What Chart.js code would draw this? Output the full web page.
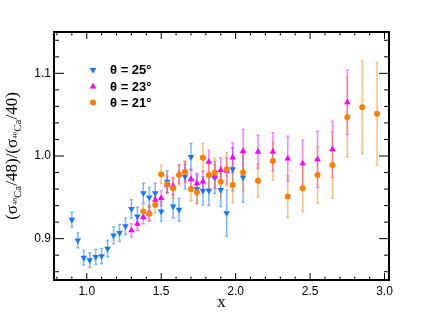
<!DOCTYPE html>
<html><head><meta charset="utf-8">
<script src="https://cdn.jsdelivr.net/npm/chart.js@4"></script>
<style>html,body{margin:0;padding:0;background:#fff}canvas{display:block}</style>
</head><body>
<canvas id="c" width="432" height="312"></canvas>
<script>
// ---- data ----
const seriesLabels = ['θ = 25°', 'θ = 23°', 'θ = 21°'];

const x25 = [0.90,0.94,0.98,1.02,1.06,1.10,1.14,1.18,1.22,1.26,1.30,1.34,1.38,1.42,1.46,1.50,1.54,1.58,1.62,1.66,1.70,1.74,1.78,1.82,1.86,1.90,1.94,1.98,2.05];
const y25 = [0.923,0.898,0.877,0.874,0.878,0.879,0.888,0.904,0.907,0.915,0.936,0.927,0.955,0.950,0.955,0.933,0.969,0.939,0.935,0.975,0.999,0.960,0.958,0.958,0.974,0.959,0.931,0.984,0.974];
const e25 = [0.009,0.009,0.009,0.009,0.009,0.009,0.010,0.010,0.010,0.010,0.011,0.011,0.012,0.012,0.012,0.012,0.013,0.014,0.014,0.015,0.016,0.017,0.017,0.018,0.019,0.020,0.028,0.026,0.030];

const x23 = [1.30,1.34,1.38,1.42,1.46,1.50,1.54,1.58,1.62,1.66,1.70,1.74,1.78,1.82,1.86,1.90,1.94,1.98,2.05,2.15,2.25,2.35,2.45,2.55,2.65,2.75];
const y23 = [0.910,0.918,0.926,0.931,0.947,0.949,0.965,0.964,0.978,0.981,0.972,0.967,0.969,0.993,0.975,0.983,0.982,0.998,1.006,1.005,1.005,0.997,0.991,0.996,1.008,1.065];
const e23 = [0.008,0.008,0.008,0.009,0.009,0.009,0.010,0.010,0.011,0.012,0.012,0.012,0.013,0.014,0.014,0.015,0.016,0.018,0.026,0.020,0.023,0.027,0.028,0.034,0.034,0.039];

const x21 = [1.38,1.42,1.46,1.50,1.54,1.58,1.62,1.66,1.70,1.74,1.78,1.82,1.86,1.90,1.94,1.98,2.05,2.15,2.25,2.35,2.45,2.55,2.65,2.75,2.85,2.95];
const y21 = [0.933,0.930,0.941,0.978,0.966,0.961,0.977,0.981,0.960,0.956,0.998,0.977,0.980,0.969,0.984,0.965,0.980,0.970,0.994,0.951,0.961,0.977,0.989,1.047,1.059,1.051];
const e21 = [0.009,0.009,0.010,0.011,0.011,0.012,0.012,0.013,0.014,0.014,0.017,0.016,0.017,0.018,0.020,0.022,0.022,0.020,0.023,0.025,0.028,0.034,0.040,0.048,0.056,0.062];

const xTickValues = [1.0, 1.5, 2.0, 2.5, 3.0];
const yTickValues = [0.9, 1.0, 1.1];
const xRange = [0.78, 3.03];
const yRange = [0.85, 1.15];

// ---- styles ----
const markerColors = ['rgb(20,120,255)', 'rgb(255,0,255)', 'rgb(255,125,0)'];
const barColors = ['rgba(20,120,255,0.55)', 'rgba(255,0,255,0.5)', 'rgba(255,125,0,0.5)'];
const errs = [e25, e23, e21];

const toPts = (xs, ys) => xs.map((x, i) => ({x: x, y: ys[i]}));

const errorBars = {
  id: 'errorBars',
  beforeDatasetsDraw(chart) {
    const ctx = chart.ctx, xs = chart.scales.x, ys = chart.scales.y;
    ctx.save();
    chart.data.datasets.forEach((ds, di) => {
      ctx.strokeStyle = barColors[di];
      ctx.lineWidth = 1.5;
      ds.data.forEach((p, i) => {
        const px = xs.getPixelForValue(p.x);
        const top = ys.getPixelForValue(p.y + errs[di][i]);
        const bot = ys.getPixelForValue(p.y - errs[di][i]);
        ctx.beginPath();
        ctx.moveTo(px, top); ctx.lineTo(px, bot);
        ctx.moveTo(px - 1.5, top); ctx.lineTo(px + 1.5, top);
        ctx.moveTo(px - 1.5, bot); ctx.lineTo(px + 1.5, bot);
        ctx.stroke();
      });
    });
    ctx.restore();
  }
};

function drawMarker(ctx, kind, x, y, color) {
  ctx.fillStyle = color;
  ctx.beginPath();
  if (kind === 'down') {
    ctx.moveTo(x - 3.3, y - 1.9); ctx.lineTo(x + 3.3, y - 1.9); ctx.lineTo(x, y + 3.8);
  } else if (kind === 'up') {
    ctx.moveTo(x - 3.3, y + 1.9); ctx.lineTo(x + 3.3, y + 1.9); ctx.lineTo(x, y - 3.8);
  } else {
    ctx.arc(x, y, 3, 0, Math.PI * 2);
  }
  ctx.closePath();
  ctx.fill();
}

const frame = {
  id: 'frame',
  afterDraw(chart) {
    const ctx = chart.ctx, a = chart.chartArea, xs = chart.scales.x, ys = chart.scales.y;
    ctx.save();
    ctx.strokeStyle = '#000';
    ctx.lineWidth = 1;
    // minor / major ticks, inward on all sides
    ctx.beginPath();
    for (let k = 8; k <= 30; k++) {
      const v = k / 10;
      const px = xs.getPixelForValue(v);
      if (px < a.left || px > a.right) continue;
      const major = (k % 5 === 0);
      const L = major ? 7 : 3.5;
      ctx.moveTo(px, a.bottom); ctx.lineTo(px, a.bottom - L);
      ctx.moveTo(px, a.top); ctx.lineTo(px, a.top + L);
    }
    for (let k = 43; k <= 57; k++) {
      const v = k / 50;
      const py = ys.getPixelForValue(v);
      if (py < a.top || py > a.bottom) continue;
      const major = (k % 5 === 0);
      const L = major ? 10 : 5;
      ctx.moveTo(a.left, py); ctx.lineTo(a.left + L, py);
      ctx.moveTo(a.right, py); ctx.lineTo(a.right - L, py);
    }
    ctx.stroke();
    ctx.lineWidth = 2;
    ctx.strokeRect(a.left, a.top, a.right - a.left, a.bottom - a.top);

    // legend
    const kinds = ['down', 'up', 'circle'];
    const ly = [70, 86.5, 102.5];
    ctx.font = 'bold 13px "Liberation Sans", Arial, sans-serif';
    ctx.textBaseline = 'middle';
    ctx.textAlign = 'left';
    seriesLabels.forEach((t, i) => {
      drawMarker(ctx, kinds[i], 93, ly[i], markerColors[i]);
      ctx.fillStyle = '#000';
      ctx.fillText(t, 110, ly[i] + 0.5);
    });

    // x title
    ctx.font = '17px "Liberation Serif", "Times New Roman", serif';
    ctx.textAlign = 'center';
    ctx.textBaseline = 'alphabetic';
    ctx.fillText('x', (a.left + a.right) / 2, 307);

    // y title with sub/superscripts
    const parts = [
      {t: '(σ', s: 17, dy: 0},
      {t: '48', s: 7, dy: 0},
      {t: 'Ca', s: 11, dy: 4},
      {t: '/48)/(σ', s: 17, dy: 0},
      {t: '40', s: 7, dy: 0},
      {t: 'Ca', s: 11, dy: 4},
      {t: '/40)', s: 17, dy: 0}
    ];
    let total = 0;
    parts.forEach(p => { ctx.font = p.s + 'px "Liberation Serif", serif'; p.w = ctx.measureText(p.t).width; total += p.w; });
    ctx.translate(17, (a.top + a.bottom) / 2);
    ctx.rotate(-Math.PI / 2);
    ctx.textAlign = 'left';
    let cx = -total / 2;
    parts.forEach(p => {
      ctx.font = p.s + 'px "Liberation Serif", serif';
      ctx.fillText(p.t, cx, p.dy);
      cx += p.w;
    });
    ctx.restore();
  }
};

new Chart(document.getElementById('c'), {
  type: 'scatter',
  data: {
    datasets: [
      {label: seriesLabels[0], data: toPts(x25, y25), pointStyle: 'triangle', rotation: 180, radius: 3.8, backgroundColor: markerColors[0], borderWidth: 0, order: 3},
      {label: seriesLabels[1], data: toPts(x23, y23), pointStyle: 'triangle', rotation: 0, radius: 3.8, backgroundColor: markerColors[1], borderWidth: 0, order: 2},
      {label: seriesLabels[2], data: toPts(x21, y21), pointStyle: 'circle', radius: 3, backgroundColor: markerColors[2], borderWidth: 0, order: 1}
    ]
  },
  options: {
    responsive: false,
    devicePixelRatio: 1,
    animation: false,
    layout: {padding: {top: 32, right: 43, left: 0, bottom: 0}},
    plugins: {legend: {display: false}, tooltip: {enabled: false}},
    elements: {point: {hoverRadius: 4}},
    scales: {
      x: {
        type: 'linear', min: xRange[0], max: xRange[1],
        grid: {display: false, drawTicks: false},
        border: {display: false},
        afterBuildTicks: s => { s.ticks = xTickValues.map(v => ({value: v})); },
        afterFit: s => { s.height = 32; },
        ticks: {padding: 4, color: '#000', font: {family: '"Liberation Sans", Arial, sans-serif', size: 12}, callback: v => v.toFixed(1), maxRotation: 0}
      },
      y: {
        type: 'linear', min: yRange[0], max: yRange[1],
        grid: {display: false, drawTicks: false},
        border: {display: false},
        afterBuildTicks: s => { s.ticks = yTickValues.map(v => ({value: v})); },
        afterFit: s => { s.width = 54; },
        ticks: {padding: 3, color: '#000', font: {family: '"Liberation Sans", Arial, sans-serif', size: 12}, callback: v => v.toFixed(1)}
      }
    }
  },
  plugins: [errorBars, frame]
});
</script>
</body></html>
